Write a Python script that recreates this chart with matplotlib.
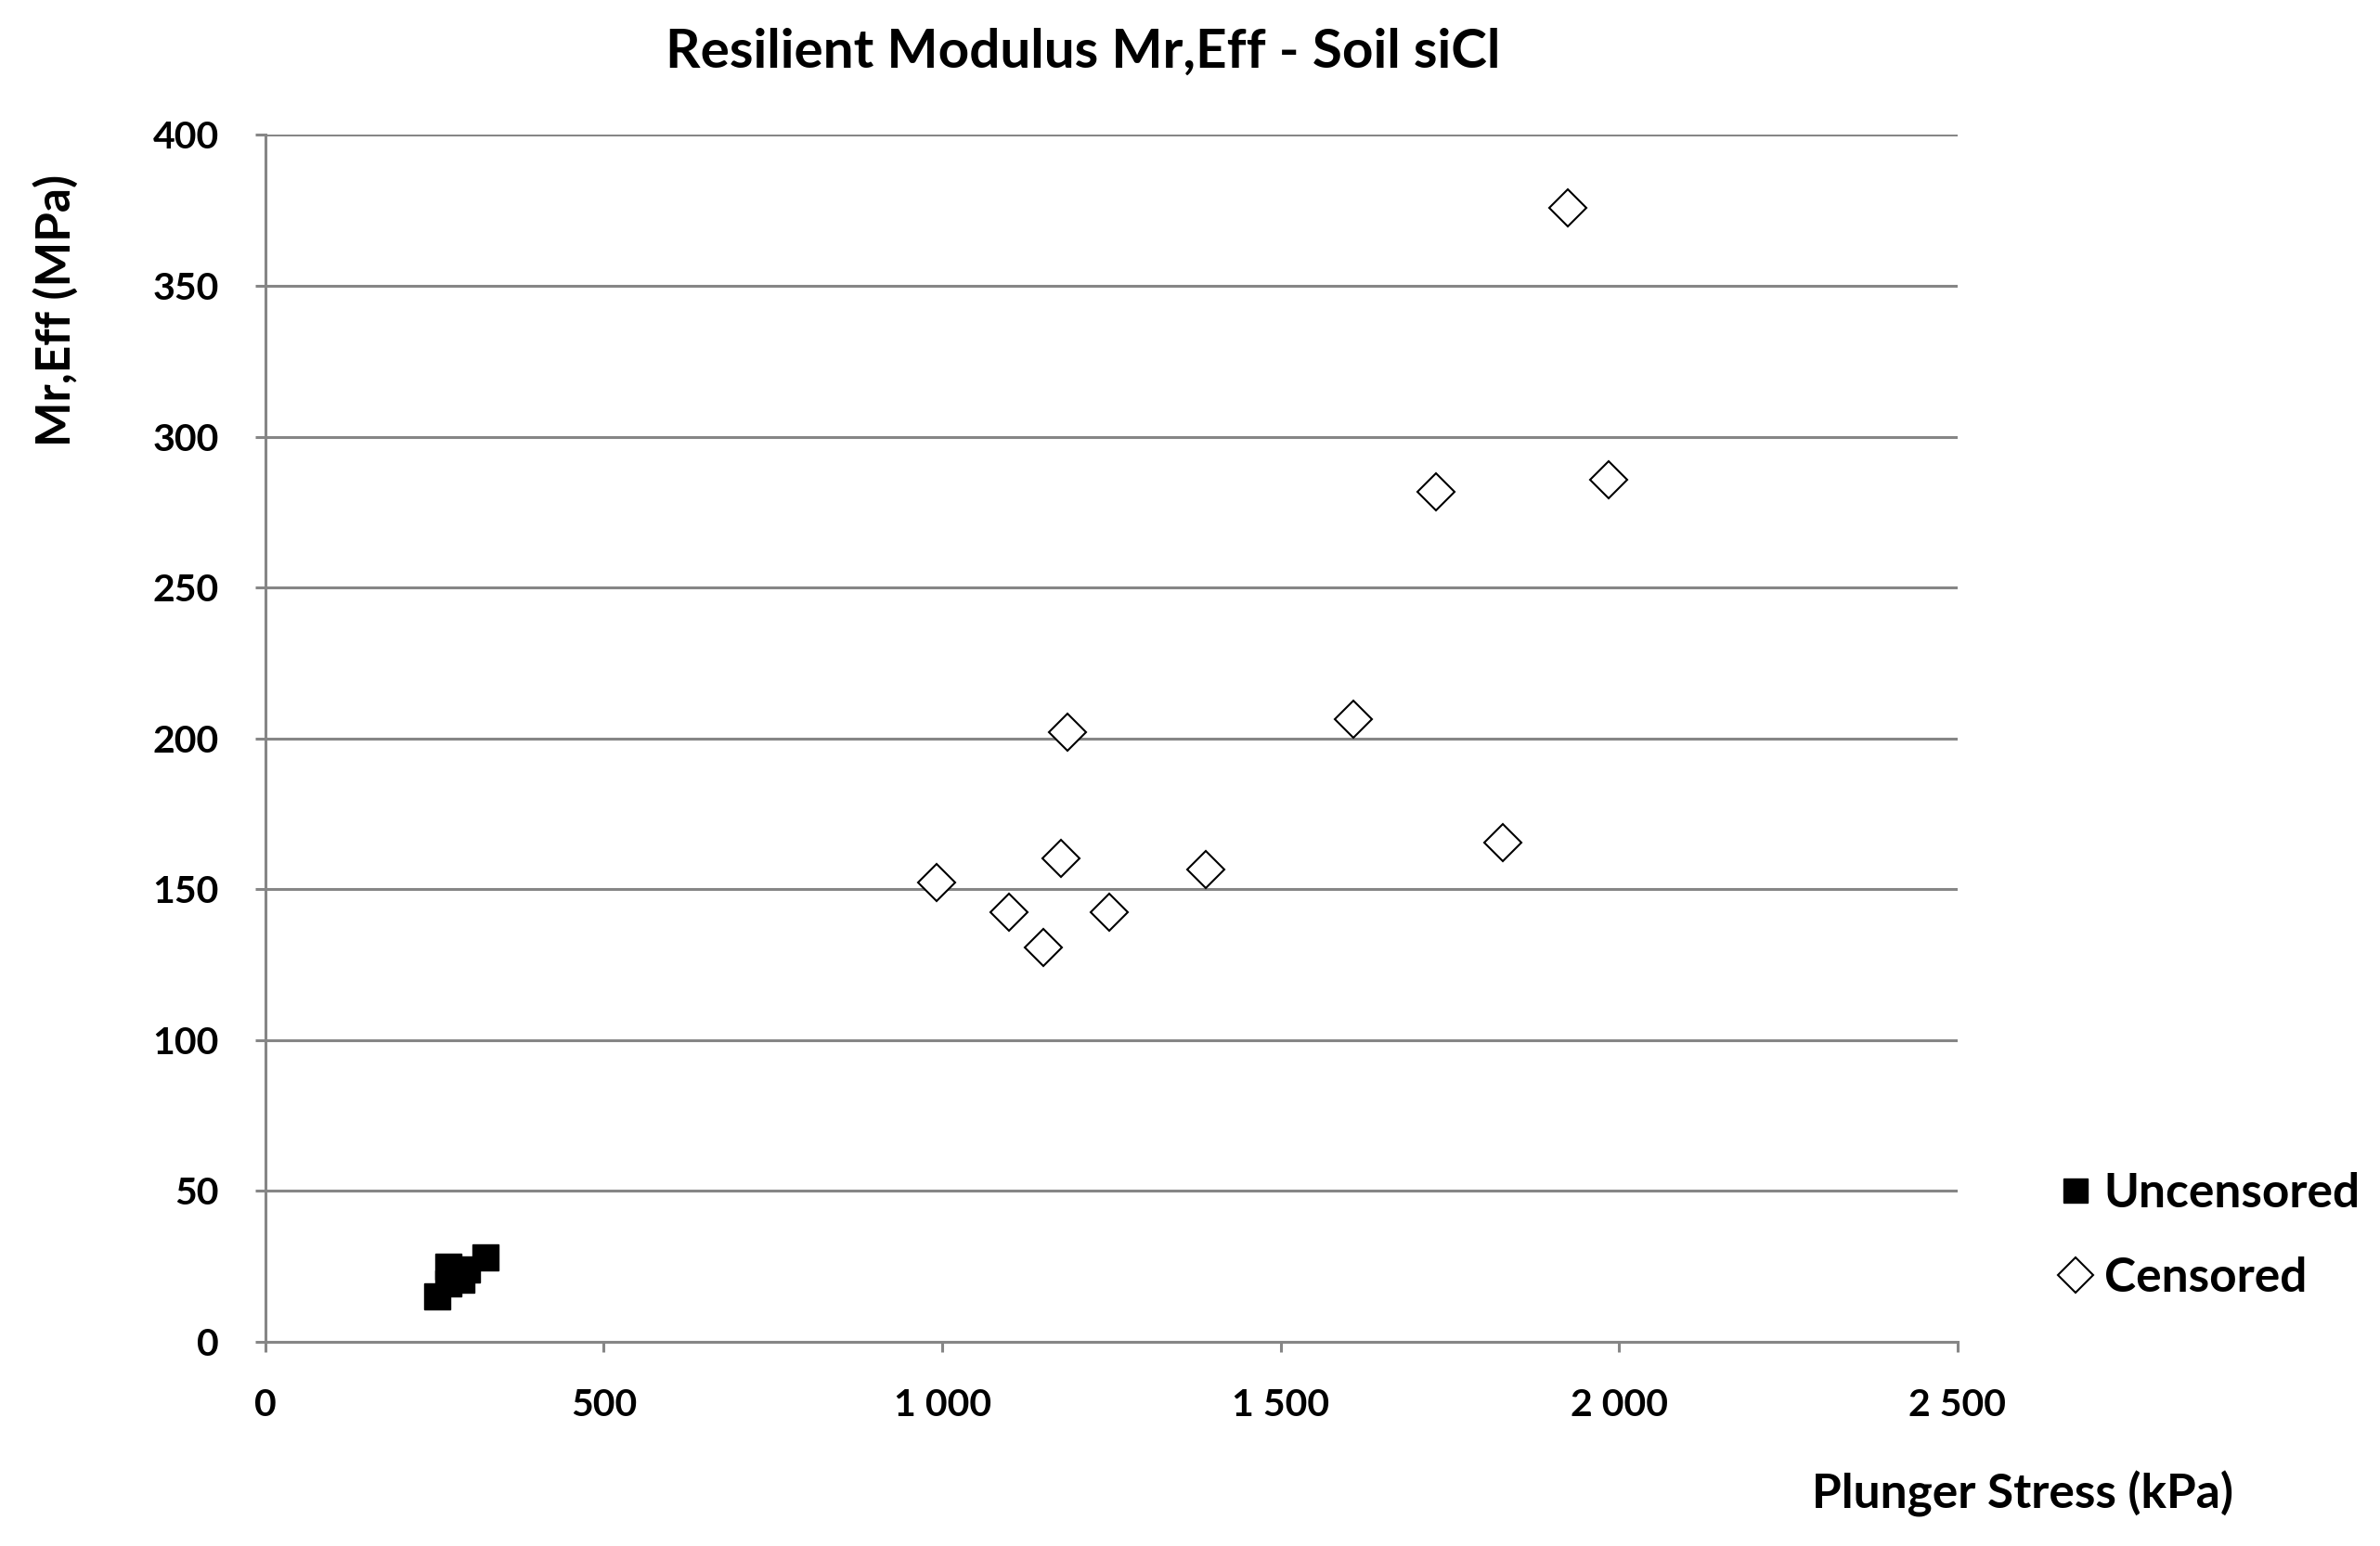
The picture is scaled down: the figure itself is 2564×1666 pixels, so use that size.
import matplotlib
matplotlib.use("Agg")
import matplotlib.pyplot as plt
from matplotlib.ticker import FuncFormatter

plt.rcParams["font.family"] = ["Lato", "DejaVu Sans"]
plt.rcParams["font.weight"] = "bold"

# uncensored points (filled squares)
unc_stress = [254, 271, 271, 289, 298, 325]
unc_mr = [15.2, 25.0, 19.5, 20.6, 24.1, 28.1]

# censored points (open diamonds)
cen_stress = [1185, 992, 1175, 1389, 1098, 1247, 1149, 1924, 1729, 1985, 1608, 1828]
cen_mr = [202.0, 152.3, 160.3, 156.5, 142.5, 142.3, 130.7, 375.8, 281.8, 285.8, 206.3, 165.6]

x_ticks = [0, 500, 1000, 1500, 2000, 2500]
y_ticks = [0, 50, 100, 150, 200, 250, 300, 350, 400]

grid_col = "#868686"

fig = plt.figure(figsize=(25.64, 16.66), dpi=100)
ax = fig.add_axes([0.1115, 0.1321, 0.711, 0.7806])

ax.plot(unc_stress, unc_mr, linestyle="none", marker="s", markersize=20,
        color="black", label="Uncensored", zorder=3)
ax.plot(cen_stress, cen_mr, linestyle="none", marker="D", markersize=20,
        markerfacecolor="white", markeredgecolor="black", markeredgewidth=1.5,
        label="Censored", zorder=3)

ax.set_xlim(0, 2500)
ax.set_ylim(0, 400)
ax.set_xticks(x_ticks)
ax.set_yticks(y_ticks)
ax.xaxis.set_major_formatter(FuncFormatter(lambda v, p: f"{int(v):,}".replace(",", " ")))

ax.yaxis.grid(True, color=grid_col, linewidth=2.2)
ax.set_axisbelow(True)
for s in ["top", "right"]:
    ax.spines[s].set_visible(False)
for s in ["left", "bottom"]:
    ax.spines[s].set_color(grid_col)
    ax.spines[s].set_linewidth(2.2)
ax.tick_params(axis="both", color=grid_col, width=2.2, length=8,
               labelsize=29.5, pad=28)
for lab in ax.get_xticklabels() + ax.get_yticklabels():
    lab.set_fontweight("bold")

fig.text(0.455, 0.966, "Resilient Modulus Mr,Eff - Soil siCl", ha="center",
         va="center", fontsize=42, fontweight="bold")
fig.text(0.850, 0.0334, "Plunger Stress (kPa)", ha="center", va="center",
         fontsize=37, fontweight="bold")
fig.text(0.0236, 0.799, "Mr,Eff (MPa)", ha="center", va="center",
         rotation=90, fontsize=37, fontweight="bold")

leg = fig.legend(loc="center left", bbox_to_anchor=(0.845, 0.2005), frameon=False,
                 fontsize=37, handletextpad=0.15, labelspacing=0.85,
                 markerscale=0.95, handlelength=0.9)
for t in leg.get_texts():
    t.set_fontweight("bold")

plt.savefig("out.png", dpi=100)
plt.close()
